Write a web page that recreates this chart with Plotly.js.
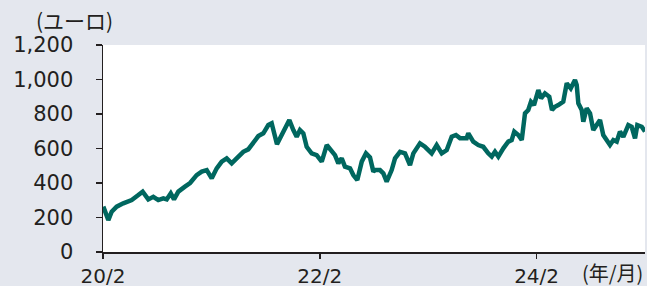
<!DOCTYPE html>
<html>
<head>
<meta charset="utf-8">
<script src="https://cdn.plot.ly/plotly-3.0.1.min.js"></script>
<style>
html,body{margin:0;padding:0;background:#e4e7ee;}
#chart{width:647px;height:286px;}
</style>
</head>
<body>
<div id="chart"></div>
<script>
// time in decimal years (20/2 = 2020.083)
const years = [2020.086,2020.132,2020.163,2020.209,2020.270,2020.348,2020.409,2020.449,2020.501,2020.547,
2020.593,2020.639,2020.671,2020.708,2020.738,2020.778,2020.839,2020.886,2020.947,2020.994,
2021.040,2021.086,2021.132,2021.178,2021.224,2021.270,2021.316,2021.377,2021.423,2021.470,
2021.516,2021.562,2021.608,2021.639,2021.660,2021.688,2021.716,2021.762,2021.802,2021.839,
2021.870,2021.900,2021.931,2021.962,2022.008,2022.054,2022.101,2022.147,2022.193,2022.223,
2022.254,2022.285,2022.315,2022.362,2022.392,2022.429,2022.470,2022.509,2022.546,2022.577,
2022.592,2022.638,2022.669,2022.700,2022.746,2022.777,2022.823,2022.869,2022.915,2022.946,
2023.007,2023.053,2023.115,2023.161,2023.208,2023.254,2023.300,2023.339,2023.376,2023.438,
2023.453,2023.499,2023.545,2023.591,2023.637,2023.669,2023.699,2023.730,2023.776,2023.822,
2023.853,2023.877,2023.914,2023.946,2023.976,2024.006,2024.031,2024.059,2024.099,2024.124,
2024.160,2024.200,2024.225,2024.253,2024.283,2024.329,2024.361,2024.398,2024.437,2024.453,
2024.468,2024.499,2024.514,2024.545,2024.576,2024.606,2024.637,2024.668,2024.698,2024.730,
2024.760,2024.791,2024.822,2024.852,2024.883,2024.929,2024.960,2024.991,2025.012,2025.053,
2025.083];
const price = [263,185,234,263,282,301,330,350,305,320,
301,311,305,340,305,350,379,400,446,466,
475,427,485,524,543,514,543,581,595,630,
672,688,736,746,698,625,660,710,765,707,
668,707,688,610,572,562,524,620,581,562,
514,543,495,485,446,417,524,572,548,466,
475,475,456,408,475,543,581,572,504,572,
630,610,572,620,572,591,668,678,660,659,
688,640,620,610,572,553,581,553,601,640,
649,698,678,649,804,823,871,852,939,891,
920,900,823,842,852,871,978,949,997,968,
862,823,755,833,804,707,736,765,678,649,
620,649,640,698,668,736,726,659,736,726,
698];
const xTickVals = [2020.083, 2022.083, 2024.083];
const xTickText = ['20/2', '22/2', '24/2'];
const yTickVals = [0, 200, 400, 600, 800, 1000, 1200];
const yTickText = ['0', '200', '400', '600', '800', '1,000', '1,200'];

const FONT = 'DejaVu Sans, "Noto Sans CJK JP", sans-serif';
const trace = {
  x: years, y: price, type: 'scatter', mode: 'lines',
  line: {color: '#00675f', width: 4.5},
  hoverinfo: 'skip'
};
const layout = {
  width: 647, height: 286,
  paper_bgcolor: '#e4e7ee', plot_bgcolor: '#ffffff',
  margin: {l: 103, r: 2, t: 45, b: 34},
  showlegend: false,
  font: {family: FONT, color: '#231f20', size: 21},
  xaxis: {
    range: [2020.083, 2025.083], tickmode: 'array', tickvals: xTickVals, ticktext: xTickText,
    showgrid: false, zeroline: false, showline: true, linecolor: '#231f20', linewidth: 1.5,
    ticks: 'outside', ticklen: 5, tickcolor: '#231f20', tickwidth: 1.5,
    tickfont: {family: FONT, size: 20, color: '#231f20'}
  },
  yaxis: {
    range: [0, 1200], tickmode: 'array', tickvals: yTickVals, ticktext: yTickText,
    showgrid: false, zeroline: false, showline: true, linecolor: '#231f20', linewidth: 1.5,
    ticks: 'outside', ticklen: 6, tickcolor: '#231f20', tickwidth: 1.5,
    ticklabelstandoff: 18,
    tickfont: {family: FONT, size: 21, color: '#231f20'}
  },
  annotations: [
    {text: '(ユーロ)', xref: 'paper', yref: 'paper', x: -0.128, y: 1.121,
     xanchor: 'left', yanchor: 'middle', showarrow: false,
     font: {family: '"Noto Sans CJK JP", sans-serif', size: 21, color: '#231f20'}},
    {text: '(年/月)', xref: 'paper', yref: 'paper', x: 1.0, y: -0.097,
     xanchor: 'right', yanchor: 'middle', showarrow: false,
     font: {family: '"Noto Sans CJK JP", sans-serif', size: 20, color: '#231f20'}}
  ]
};
Plotly.newPlot('chart', [trace], layout, {displayModeBar: false, staticPlot: true});
</script>
</body>
</html>
